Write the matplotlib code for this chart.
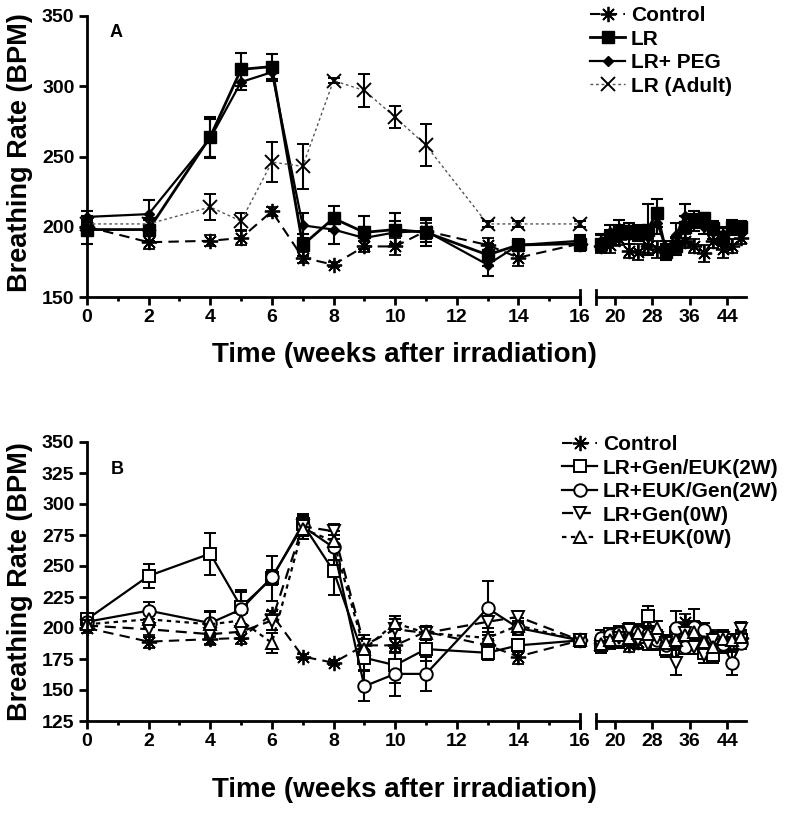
import matplotlib
matplotlib.use("Agg")
import matplotlib.pyplot as plt
from matplotlib.ticker import MultipleLocator, FixedLocator

# ---------------- data ----------------
weeks_early = [0, 2, 4, 5, 6, 7, 8, 9, 10, 11, 13, 14, 16]
weeks_late = [17, 19, 21, 23, 25, 27, 29, 31, 33, 35, 37, 39, 41, 43, 45, 47]

labels_a = ['Control', 'LR', 'LR+ PEG', 'LR (Adult)']
labels_b = ['Control', 'LR+Gen/EUK(2W)', 'LR+EUK/Gen(2W)', 'LR+Gen(0W)', 'LR+EUK(0W)']

# Panel A
a_control = [200, 189, 190, 192, 211, 178, 173, 186, 186, 197, 187, 178, 188]
a_control_err = [4, 5, 4, 5, 3, 4, 2, 4, 6, 6, 5, 6, 4]
a_lr = [198, 198, 264, 312, 314, 187, 206, 196, 198, 196, 180, 187, 188]
a_lr_err = [10, 8, 14, 12, 9, 8, 9, 12, 12, 10, 8, 3, 5]
a_peg = [207, 209, 263, 303, 310, 201, 198, 192, 196, 197, 173, 187, 190]
a_peg_err = [4, 10, 14, 6, 6, 9, 10, 8, 8, 8, 8, 4, 4]
a_adult = [202, 202, 214, 204, 246, 243, 304, 297, 278, 258, 202, 202, 202]
a_adult_err = [3, 3, 9, 6, 14, 16, 2, 12, 8, 15, 2, 2, 2]

a_control_late = [186, 187, 191, 183, 182, 186, 184, 182, 187, 190, 186, 181, 190, 184, 186, 192]
a_control_late_err = [5, 6, 4, 5, 6, 5, 6, 5, 6, 5, 5, 6, 5, 6, 5, 4]
a_lr_late = [188, 193, 196, 197, 195, 198, 210, 182, 186, 200, 205, 206, 199, 193, 200, 200]
a_lr_late_err = [6, 5, 5, 6, 5, 18, 10, 6, 6, 8, 6, 4, 5, 6, 5, 4]
a_peg_late = [190, 196, 199, 194, 196, 193, 203, 184, 194, 208, 203, 200, 196, 195, 198, 199]
a_peg_late_err = [5, 5, 6, 6, 5, 6, 8, 6, 9, 8, 6, 5, 5, 5, 4, 4]

# Panel B
b_control = [200, 189, 191, 192, 211, 177, 172, 186, 186, 197, 186, 177, 190]
b_control_err = [4, 5, 5, 5, 3, 2, 2, 4, 6, 5, 5, 6, 4]
b_gen_euk = [207, 242, 260, 217, 240, 284, 246, 176, 170, 183, 180, 186, 190]
b_gen_euk_err = [5, 10, 17, 14, 18, 8, 19, 10, 14, 10, 6, 5, 5]
b_euk_gen = [205, 214, 204, 215, 241, 282, 265, 153, 163, 163, 216, 200, 190]
b_euk_gen_err = [4, 7, 10, 14, 6, 8, 10, 12, 18, 14, 22, 6, 5]
b_gen0 = [202, 199, 195, 197, 206, 282, 278, 186, 199, 196, 205, 209, 190]
b_gen0_err = [4, 6, 8, 6, 8, 8, 6, 8, 8, 6, 8, 5, 5]
b_euk0 = [203, 207, 203, 206, 188, 280, 270, 183, 204, 196, 192, 202, 190]
b_euk0_err = [4, 6, 10, 6, 8, 8, 8, 8, 6, 6, 8, 6, 5]

b_control_late = [188, 190, 192, 186, 189, 196, 190, 185, 192, 205, 200, 187, 192, 186, 188, 192]
b_control_late_err = [5, 5, 6, 5, 6, 6, 5, 6, 5, 6, 5, 5, 6, 5, 5, 5]
b_gen_euk_late = [186, 195, 190, 197, 193, 210, 188, 183, 196, 190, 200, 180, 178, 186, 188, 190]
b_gen_euk_late_err = [6, 5, 6, 6, 5, 8, 6, 6, 6, 6, 6, 8, 6, 6, 5, 5]
b_euk_gen_late = [192, 194, 196, 199, 197, 195, 190, 186, 200, 185, 201, 198, 192, 187, 172, 188]
b_euk_gen_late_err = [6, 5, 6, 5, 6, 5, 6, 6, 14, 6, 14, 6, 5, 6, 10, 5]
b_gen0_late = [185, 188, 192, 198, 190, 187, 192, 188, 172, 196, 185, 178, 190, 192, 186, 199]
b_gen0_late_err = [5, 5, 6, 5, 6, 5, 6, 6, 10, 6, 6, 6, 5, 6, 5, 6]
b_euk0_late = [187, 190, 194, 192, 196, 195, 200, 188, 190, 194, 197, 189, 185, 191, 190, 193]
b_euk0_late_err = [5, 5, 6, 5, 6, 5, 6, 6, 6, 6, 6, 6, 5, 6, 5, 5]

x_ticks_early = [0, 2, 4, 6, 8, 10, 12, 14, 16]
x_ticks_late = [20, 28, 36, 44]
xlabel = "Time (weeks after irradiation)"
ylabel = "Breathing Rate (BPM)"

# ---------------- style ----------------
NARROW = ['Liberation Sans Narrow', 'Liberation Sans', 'DejaVu Sans']
ARIAL = ['Liberation Sans', 'DejaVu Sans']
plt.rcParams['font.family'] = ARIAL
plt.rcParams['font.weight'] = 'bold'

W, H = 800, 815
fig = plt.figure(figsize=(8, 8.15), dpi=100)

def rect(x0, x1, ytop, ybot):
    return [x0 / W, 1 - ybot / H, (x1 - x0) / W, (ybot - ytop) / H]

AST = (8, 2, 0)

def style_axes(ax, is_left, ylim, yticks):
    ax.set_ylim(*ylim)
    for s in ['top', 'right']:
        ax.spines[s].set_visible(False)
    ax.spines['bottom'].set_linewidth(2)
    ax.spines['left'].set_linewidth(2)
    ax.tick_params(axis='both', which='major', direction='out', width=2, length=6,
                   labelsize=14, pad=3)
    ax.tick_params(axis='x', which='minor', direction='out', width=2, length=3)
    if is_left:
        ax.set_xlim(0, 16)
        ax.xaxis.set_major_locator(FixedLocator(x_ticks_early))
        ax.xaxis.set_minor_locator(MultipleLocator(1))
        ax.yaxis.set_major_locator(FixedLocator(yticks))
        ax.plot([1, 1], [-0.025, 0.025], transform=ax.transAxes, color='k',
                lw=2, clip_on=False)
    else:
        ax.set_xlim(16, 48)
        ax.spines['left'].set_visible(False)
        ax.set_yticks([])
        ax.xaxis.set_major_locator(FixedLocator(x_ticks_late))
        ax.plot([0, 0], [-0.025, 0.025], transform=ax.transAxes, color='k',
                lw=2, clip_on=False)
    for lab in ax.get_xticklabels() + ax.get_yticklabels():
        lab.set_family(NARROW)
        lab.set_fontweight('bold')
        lab.set_fontsize(14)


def series(ax, x, y, e, **kw):
    return ax.errorbar(x, y, yerr=e, capsize=4, elinewidth=1.5, capthick=1.5,
                       ecolor='k', clip_on=False, **kw)

# ---------------- Panel A ----------------
axA = fig.add_axes(rect(87, 580, 16, 297))
axA2 = fig.add_axes(rect(596, 746, 16, 297))

specA = [
    (a_control, a_control_err, a_control_late, a_control_late_err,
     dict(color='k', ls=(0, (5, 3)), lw=1.5, marker=AST, ms=11, mew=1.3)),
    (a_lr, a_lr_err, a_lr_late, a_lr_late_err,
     dict(color='k', ls='-', lw=2, marker='s', ms=8)),
    (a_peg, a_peg_err, a_peg_late, a_peg_late_err,
     dict(color='k', ls='-', lw=1.6, marker='D', ms=5)),
]
handlesA = []
for y, e, yl, el, kw in specA:
    h = series(axA, weeks_early, y, e, **kw)
    series(axA2, weeks_late, yl, el, **kw)
    handlesA.append(h[0])
h = series(axA, weeks_early, a_adult, a_adult_err,
           color='#555555', ls=(0, (2, 2)), lw=1, marker='x', ms=10, mew=1.4,
           mec='k')
handlesA.append(h[0])

style_axes(axA, True, (150, 350), [150, 200, 250, 300, 350])
style_axes(axA2, False, (150, 350), [])
axA.text(0.045, 0.94, 'A', transform=axA.transAxes, fontsize=13, fontweight='bold',
         va='center', ha='left')
fig.text(20 / W, 1 - 153 / H, ylabel, rotation=90, fontsize=19.5, fontweight='bold',
         ha='center', va='center')
fig.text(404 / W, 1 - 355 / H, xlabel, fontsize=20, fontweight='bold',
         ha='center', va='center', family=NARROW)

legA = fig.legend(handles=handlesA, labels=labels_a,
                  loc='upper left', bbox_to_anchor=(590 / W, 1 - 6 / H),
                  frameon=False, fontsize=15, handlelength=1.7, handletextpad=0.25,
                  labelspacing=0.22, borderaxespad=0, borderpad=0)
for t in legA.get_texts():
    t.set_fontweight('bold')

# ---------------- Panel B ----------------
axB = fig.add_axes(rect(87, 580, 442, 721))
axB2 = fig.add_axes(rect(596, 746, 442, 721))

specB = [
    (b_control, b_control_err, b_control_late, b_control_late_err,
     dict(color='k', ls=(0, (5, 3)), lw=1.5, marker=AST, ms=11, mew=1.3)),
    (b_gen_euk, b_gen_euk_err, b_gen_euk_late, b_gen_euk_late_err,
     dict(color='k', ls='-', lw=1.6, marker='s', ms=9, mfc='white', mew=1.4)),
    (b_euk_gen, b_euk_gen_err, b_euk_gen_late, b_euk_gen_late_err,
     dict(color='k', ls='-', lw=1.6, marker='o', ms=9, mfc='white', mew=1.4)),
    (b_gen0, b_gen0_err, b_gen0_late, b_gen0_late_err,
     dict(color='k', ls=(0, (5, 3)), lw=1.6, marker='v', ms=9, mfc='white', mew=1.4)),
    (b_euk0, b_euk0_err, b_euk0_late, b_euk0_late_err,
     dict(color='k', ls=(0, (2, 2)), lw=1.6, marker='^', ms=9, mfc='white', mew=1.4)),
]
handlesB = []
for y, e, yl, el, kw in specB:
    h = series(axB, weeks_early, y, e, **kw)
    series(axB2, weeks_late, yl, el, **kw)
    handlesB.append(h[0])

style_axes(axB, True, (125, 350), [125, 150, 175, 200, 225, 250, 275, 300, 325, 350])
style_axes(axB2, False, (125, 350), [])
axB.text(0.048, 0.9, 'B', transform=axB.transAxes, fontsize=13, fontweight='bold',
         va='center', ha='left')
fig.text(20 / W, 1 - 582 / H, ylabel, rotation=90, fontsize=19.5, fontweight='bold',
         ha='center', va='center')
fig.text(404 / W, 1 - 790 / H, xlabel, fontsize=20, fontweight='bold',
         ha='center', va='center', family=NARROW)

legB = fig.legend(handles=handlesB, labels=labels_b,
                  loc='upper left', bbox_to_anchor=(562 / W, 1 - 435 / H),
                  frameon=False, fontsize=15, handlelength=1.7, handletextpad=0.25,
                  labelspacing=0.22, borderaxespad=0, borderpad=0)
for t in legB.get_texts():
    t.set_fontweight('bold')

fig.savefig('out.png', dpi=100)
